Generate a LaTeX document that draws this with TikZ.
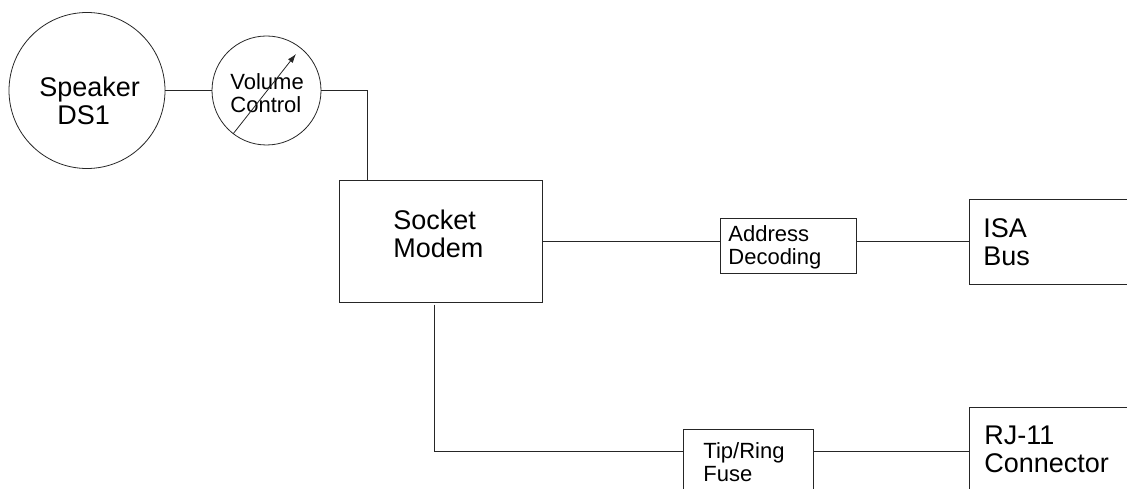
\documentclass[tikz,border=0pt]{standalone}
\usepackage{fontspec}
\setmainfont{Liberation Sans}
\usetikzlibrary{arrows.meta}

\tikzset{disc/.style = {circle, draw = black!85, minimum size = #1, inner sep = 0pt, outer sep = 0pt},
         box/.style = {rectangle, draw = black!85, inner sep = 0pt, outer sep = 0pt},
         wire/.style = {draw = black!85},
         bigtxt/.style = {font = \fontsize{27}{28}\selectfont, align = left,
                          inner sep = 0pt, anchor = north west},
         smalltxt/.style = {font = \fontsize{22}{23}\selectfont, align = left,
                            inner sep = 0pt, anchor = north west}
        }

\begin{document}
\begin{tikzpicture}[x = 1pt, y = 1pt, line width = 0.8pt]
  \useasboundingbox (0,0) rectangle (1127,-489);
  \clip (0,0) rectangle (1127,-489);

  % blocks
  \node[disc = 156pt] (spk) at (87,-90.5) {};
  \node[disc = 109pt] (vol) at (266.5,-90.5) {};
  \node[box, minimum width = 203pt, minimum height = 122pt] (modem) at (440.5,-241.5) {};
  \node[box, minimum width = 136pt, minimum height = 55pt] (addr) at (788,-245.5) {};
  \node[box, minimum width = 231pt, minimum height = 85pt] (isa) at (1084.5,-241.5) {};
  \node[box, minimum width = 130pt, minimum height = 91pt] (fuse) at (748,-474.5) {};
  \node[box, minimum width = 231pt, minimum height = 123pt] (rj) at (1084.5,-468.5) {};

  % texts
  \node[bigtxt] (spktxt) at ([shift={(-48,14)}]spk.center) {Speaker\\\hspace*{18pt}DS1};
  \node[smalltxt] (voltxt) at ([shift={(-36.5,17.8)}]vol.center) {Volume\\Control};
  \node[bigtxt] (modemtxt) at ([shift={(54,-29)}]modem.north west) {Socket\\Modem};
  \node[smalltxt] (addrtxt) at ([shift={(8,-7)}]addr.north west) {Address\\Decoding};
  \node[bigtxt] (isatxt) at ([shift={(14,-19)}]isa.north west) {ISA\\Bus};
  \node[smalltxt] (fusetxt) at ([shift={(20,-13)}]fuse.north west) {Tip/Ring\\Fuse};
  \node[bigtxt] (rjtxt) at ([shift={(15,-19)}]rj.north west) {RJ-11\\Connector};

  % wires
  \draw[wire] (spk) -- (vol);
  \draw[wire] (vol.east) -| ([xshift = 28.5pt]modem.north west);
  \draw[wire] (modem.east) -- (modem.east -| addr.west);
  \draw[wire] (addr.east |- modem.east) -- (modem.east -| isa.west);
  \coordinate (tipring) at ([yshift = 23.5pt]fuse.west);
  \draw[wire, shorten <= 2pt] ([xshift = -6.5pt]modem.south) |- (tipring);
  \draw[wire] (tipring -| fuse.east) -- (tipring -| rj.west);

  % wiper of the volume control
  \draw[wire, -{Latex[length = 9pt, width = 6pt]}]
    ([shift={(-33.5,-43.5)}]vol.center) -- ([shift={(29.5,36.5)}]vol.center);
\end{tikzpicture}
\end{document}
